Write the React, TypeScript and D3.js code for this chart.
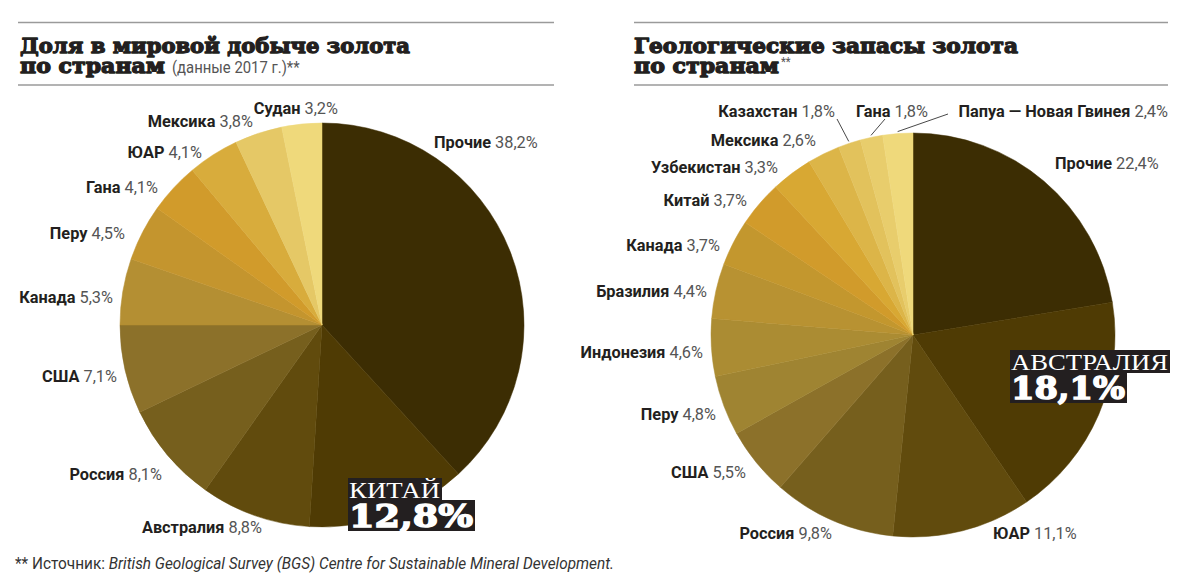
import React from "react";
import * as d3 from "d3";

// ---------- DATA ----------
const prodCountries = ["Прочие", "Китай", "Австралия", "Россия", "США", "Канада", "Перу", "Гана", "ЮАР", "Мексика", "Судан"];
const prodShares = [38.2, 12.8, 8.8, 8.1, 7.1, 5.3, 4.5, 4.1, 4.1, 3.8, 3.2];

const resCountries = ["Прочие", "Австралия", "ЮАР", "Россия", "США", "Перу", "Индонезия", "Бразилия", "Канада", "Китай", "Узбекистан", "Мексика", "Казахстан", "Гана", "Папуа — Новая Гвинея"];
const resShares = [22.4, 18.1, 11.1, 9.8, 5.5, 4.8, 4.6, 4.4, 3.7, 3.7, 3.3, 2.6, 1.8, 1.8, 2.4];

const titleLeft1 = "Доля в мировой добыче золота";
const titleLeft2 = "по странам";
const titleLeftNote = "(данные 2017 г.)**";
const titleRight1 = "Геологические запасы золота";
const titleRight2 = "по странам";
const footnotePlain = "** Источник: ";
const footnoteItalic = "British Geological Survey (BGS) Centre for Sustainable Mineral Development.";

// ---------- STYLES / LAYOUT ----------
const prodColors = ["#3c2d03", "#4f3b04", "#614b0d", "#765f1d", "#8c712a", "#b48f33", "#c4952e", "#d19b2b", "#d8ac3c", "#e5c866", "#efd97b"];
const resColors = ["#3c2d03", "#4f3b04", "#614b0d", "#765f1d", "#8c712a", "#9f8432", "#ab8c33", "#b89232", "#c3972e", "#d19b2b", "#d8a833", "#dcb548", "#e2c25c", "#e8cd6c", "#efd97b"];

type LP = [number, number, "start" | "end"] | null;
const prodLabelPos: LP[] = [
  [434, 148, "start"], null, [262, 533, "end"], [162, 480, "end"], [117, 382, "end"],
  [113, 303, "end"], [125, 239, "end"], [158, 193, "end"], [202, 158, "end"], [253, 127, "end"], [338, 114, "end"],
];
const resLabelPos: LP[] = [
  [1055, 169, "start"], null, [993, 539, "start"], [832, 539, "end"], [746, 478, "end"],
  [716, 420, "end"], [703, 358, "end"], [707, 297, "end"], [720, 251, "end"], [747, 206, "end"],
  [778, 173, "end"], [816, 146, "end"], [835, 117, "end"], [928, 117, "end"], [1168, 117, "end"],
];
const resLeaders: Record<number, [number, number]> = { 12: [837, 119], 13: [885, 119], 14: [948, 114] };

const labelFont = "Roboto, 'Liberation Sans', 'DejaVu Sans', sans-serif";
const slabFont = "'DejaVu Serif', 'Liberation Serif', serif";
const lightSerif = "'Liberation Serif', 'DejaVu Serif', serif";
const NARROW = 0.96;

const R = 202;

function fmt(v: number) {
  return v.toFixed(1).replace(".", ",") + "%";
}

function Pie({ cx, cy, values, names, colors, labelPos, leaders }: {
  cx: number; cy: number; values: number[]; names: string[]; colors: string[]; labelPos: LP[]; leaders?: Record<number, [number, number]>;
}) {
  const pie = d3.pie<number>().sort(null).value((d) => d).startAngle(0).endAngle(2 * Math.PI);
  const arcs = pie(values);
  const arc = d3.arc<d3.PieArcDatum<number>>().innerRadius(0).outerRadius(R);
  return (
    <g>
      <g transform={`translate(${cx},${cy})`}>
        {arcs.map((a, i) => (
          <path key={i} d={arc(a) || ""} fill={colors[i]} stroke={colors[i]} strokeWidth={0.5} />
        ))}
      </g>
      {leaders && Object.keys(leaders).map((k) => {
        const i = +k;
        const a = arcs[i];
        const mid = (a.startAngle + a.endAngle) / 2;
        const ex = cx + (R + 2) * Math.sin(mid);
        const ey = cy - (R + 2) * Math.cos(mid);
        const [sx, sy] = leaders[i];
        return <line key={"l" + k} x1={sx} y1={sy} x2={ex} y2={ey} stroke="#333" strokeWidth={0.9} />;
      })}
      {labelPos.map((p, i) => p && (
        <text key={"t" + i} transform={`translate(${p[0]},${p[1]}) scale(${NARROW},1)`} textAnchor={p[2]} fontFamily={labelFont} fontSize={17}>
          <tspan fontWeight="bold" fill="#231f20">{names[i]}</tspan>
          <tspan fill="#555">{" " + fmt(values[i])}</tspan>
        </text>
      ))}
    </g>
  );
}

function BoxLabel({ x, y, name, value, nameW, valueW }: { x: number; y: number; name: string; value: number; nameW: number; valueW: number }) {
  return (
    <g>
      <rect x={x} y={y} width={nameW} height={23} fill="#231f20" />
      <rect x={x} y={y + 22} width={valueW} height={31} fill="#231f20" />
      <text x={x + 1} y={y + 20} fontFamily={lightSerif} fontSize={24} fill="#fff" textLength={nameW - 3} lengthAdjust="spacingAndGlyphs">{name.toUpperCase()}</text>
      <text x={x + 1} y={y + 49} fontFamily={slabFont} fontWeight="bold" fontSize={31} fill="#fff" stroke="#fff" strokeWidth={1.4} textLength={valueW - 3} lengthAdjust="spacingAndGlyphs">{fmt(value)}</text>
    </g>
  );
}

function Title({ x, l1, l2, w1 }: { x: number; l1: string; l2: string; w1: number }) {
  return (
    <g fontFamily={slabFont} fontWeight="bold" fontSize={21} fill="#231f20" stroke="#231f20" strokeWidth={1.3} strokeLinejoin="round">
      <text x={x} y={53} textLength={w1} lengthAdjust="spacingAndGlyphs">{l1}</text>
      <text x={x} y={73} textLength={145} lengthAdjust="spacingAndGlyphs">{l2}</text>
    </g>
  );
}

export default function App() {
  return (
    <svg width={1200} height={588} style={{ position: "absolute", left: 0, top: 0, background: "#fff" }}>
      <rect width={1200} height={588} fill="#fff" />
      <line x1={18} x2={554} y1={22.5} y2={22.5} stroke="#9a9a9a" strokeWidth={1.5} />
      <line x1={18} x2={554} y1={85} y2={85} stroke="#9a9a9a" strokeWidth={1.5} />
      <line x1={634} x2={1168} y1={22.5} y2={22.5} stroke="#9a9a9a" strokeWidth={1.5} />
      <line x1={634} x2={1168} y1={85} y2={85} stroke="#9a9a9a" strokeWidth={1.5} />

      <Title x={20} l1={titleLeft1} l2={titleLeft2} w1={390} />
      <text transform="translate(172,73) scale(0.93,1)" fontFamily={labelFont} fontSize={16} fill="#555">{titleLeftNote}</text>

      <Title x={634} l1={titleRight1} l2={titleRight2} w1={384} />
      <text transform="translate(781,66) scale(0.93,1)" fontFamily={labelFont} fontSize={12} fill="#555">**</text>

      <Pie cx={322} cy={325} values={prodShares} names={prodCountries} colors={prodColors} labelPos={prodLabelPos} />
      <Pie cx={913} cy={335} values={resShares} names={resCountries} colors={resColors} labelPos={resLabelPos} leaders={resLeaders} />

      <BoxLabel x={348} y={478} name={prodCountries[1]} value={prodShares[1]} nameW={94} valueW={127} />
      <BoxLabel x={1010} y={350} name={resCountries[1]} value={resShares[1]} nameW={160} valueW={117} />

      <text transform="translate(15,569) scale(0.96,1)" fontFamily={labelFont} fontSize={16} fill="#333">
        <tspan>{footnotePlain}</tspan>
        <tspan fontStyle="italic">{footnoteItalic}</tspan>
      </text>
    </svg>
  );
}
